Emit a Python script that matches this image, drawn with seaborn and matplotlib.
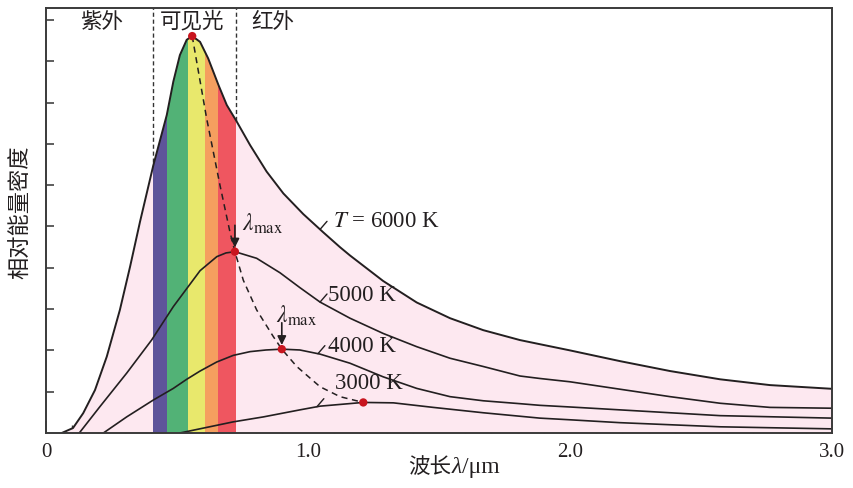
import numpy as np
import seaborn as sns
import matplotlib.pyplot as plt
from matplotlib.ticker import FixedLocator, NullFormatter
from matplotlib.offsetbox import TextArea, HPacker, AnnotationBbox

# values (x in um, y in relative units, one y-tick = 1)
x_6000 = [0.060, 0.103, 0.142, 0.187, 0.232, 0.282, 0.321, 0.359, 0.410, 0.461,
          0.486, 0.511, 0.537, 0.558, 0.588, 0.619, 0.658, 0.690, 0.728, 0.779,
          0.842, 0.906, 0.982, 1.058, 1.122, 1.160, 1.287, 1.415, 1.542, 1.669,
          1.809, 1.885, 2.000, 2.191, 2.382, 2.573, 2.763, 3.000]
y_6000 = [0.00, 0.12, 0.48, 1.04, 1.85, 2.98, 4.03, 5.12, 6.49, 7.70,
          8.51, 9.15, 9.52, 9.61, 9.47, 9.07, 8.43, 7.94, 7.54, 6.97,
          6.33, 5.80, 5.30, 4.86, 4.50, 4.30, 3.68, 3.16, 2.78, 2.49,
          2.25, 2.15, 2.00, 1.74, 1.50, 1.30, 1.16, 1.07]

x_5000 = [0.127, 0.206, 0.308, 0.403, 0.486, 0.588, 0.652, 0.687, 0.721, 0.804,
          0.893, 0.969, 1.046, 1.160, 1.287, 1.415, 1.542, 1.669, 1.809, 1.885,
          2.000, 2.191, 2.382, 2.573, 2.763, 3.000]
y_5000 = [0.00, 0.64, 1.45, 2.25, 3.06, 3.93, 4.27, 4.36, 4.39, 4.23,
          3.88, 3.52, 3.17, 2.78, 2.41, 2.09, 1.81, 1.61, 1.38, 1.32,
          1.24, 1.06, 0.88, 0.72, 0.62, 0.60]

x_4000 = [0.219, 0.308, 0.410, 0.486, 0.537, 0.588, 0.652, 0.715, 0.779, 0.840,
          0.900, 0.969, 1.046, 1.160, 1.287, 1.415, 1.542, 1.669, 1.809, 1.885,
          2.000, 2.191, 2.382, 2.573, 3.000]
y_4000 = [0.00, 0.39, 0.80, 1.08, 1.30, 1.50, 1.72, 1.88, 1.97, 2.01,
          2.03, 2.01, 1.91, 1.69, 1.36, 1.08, 0.88, 0.78, 0.71, 0.67,
          0.63, 0.56, 0.49, 0.42, 0.36]

x_3000 = [0.511, 0.715, 0.830, 0.969, 1.046, 1.211, 1.326, 1.478, 1.669, 1.885,
          2.000, 2.191, 2.382, 2.573, 3.000]
y_3000 = [0.00, 0.27, 0.39, 0.56, 0.65, 0.74, 0.73, 0.62, 0.49, 0.36,
          0.32, 0.25, 0.20, 0.15, 0.10]

peak_x = [0.558, 0.721, 0.900, 1.211]
peak_y = [9.61, 4.39, 2.03, 0.74]

# path of lambda_max (dashed)
locus_x = [0.558, 0.613, 0.664, 0.702, 0.721, 0.753, 0.804, 0.868, 0.900, 0.957,
           1.046, 1.122, 1.211]
locus_y = [9.61, 7.62, 6.00, 4.87, 4.39, 3.70, 2.98, 2.33, 2.03, 1.61,
           1.12, 0.88, 0.74]

curve_labels = [r"$T$ = 6000 K", "5000 K", "4000 K", "3000 K"]
label_x = [1.046, 1.046, 1.038, 1.034]

band_edges = [0.410, 0.460, 0.543, 0.607, 0.655, 0.725]
band_colors = ["#5e549a", "#52b276", "#e8e86c", "#f59f5f", "#ef5660"]

region_names = ["紫外", "可见光", "红外"]
region_x = [0.214, 0.557, 0.866]

xtick_pos = [0, 0.5, 1.0, 1.5, 2.0, 2.5, 3.0]
xtick_labels = ["0", "", "1.0", "", "2.0", "", "3.0"]
xminor_pos = [i / 10 for i in range(31)]
ytick_pos = list(range(1, 11))

sns.set_theme(style="white")
plt.rcParams["font.family"] = ["Liberation Serif", "Noto Sans CJK SC", "DejaVu Sans"]
plt.rcParams["mathtext.fontset"] = "stix"

ink = "#231f20"
pink = "#fde8f0"

fig = plt.figure(figsize=(8.54, 4.88), dpi=100)
ax = fig.add_axes([46 / 854, 55 / 488, 786 / 854, 425 / 488])
ax.set_xlim(0, 3.0)
ax.set_ylim(0, 10.29)

# region separators (hidden under the fill)
for xe in (band_edges[0], band_edges[-1]):
    ax.axvline(xe, color="#333333", lw=1.0, ls=(0, (3, 2)), zorder=1)

fill = ax.fill_between(x_6000, y_6000, 0, color=pink, lw=0, zorder=2)
clip = fill.get_paths()[0]
for a, b, c in zip(band_edges[:-1], band_edges[1:], band_colors):
    span = ax.axvspan(a, b, color=c, lw=0, zorder=3)
    span.set_clip_path(clip, ax.transData)

for xs, ys, lw in [(x_6000, y_6000, 1.4), (x_5000, y_5000, 1.2),
                   (x_4000, y_4000, 1.2), (x_3000, y_3000, 1.2)]:
    sns.lineplot(x=xs, y=ys, sort=False, estimator=None, color=ink, lw=lw,
                 ax=ax, zorder=4)

sns.lineplot(x=locus_x, y=locus_y, sort=False, estimator=None, color=ink,
             lw=1.1, linestyle=(0, (4, 3)), ax=ax, zorder=5)

sns.scatterplot(x=peak_x, y=peak_y, color="#c8151f", s=36, edgecolor="none",
                ax=ax, zorder=7)

# lambda_max arrows on the 5000 K and 4000 K peaks
lam_offsets = [(5, 11.5), (-4, 15)]
for i, off in zip([1, 2], lam_offsets):
    ax.annotate("", xy=(peak_x[i], peak_y[i]), xytext=(0, 19),
                textcoords="offset points",
                arrowprops=dict(arrowstyle="-|>", color=ink, lw=1.2,
                                mutation_scale=13, shrinkA=0, shrinkB=3),
                zorder=6)
    ax.annotate(r"$\lambda_{\rm max}$", xy=(peak_x[i], peak_y[i]), xytext=off,
                textcoords="offset points", ha="left", va="bottom",
                fontsize=17, color=ink, zorder=6)

# curve labels with short leaders
text_offsets = [(9.4, 5.8), (5.8, 5.0), (7.2, 5.0), (13, 16.6)]
curves = [(x_6000, y_6000), (x_5000, y_5000), (x_4000, y_4000), (x_3000, y_3000)]
for (xs, ys), lx, lab, off in zip(curves, label_x, curve_labels, text_offsets):
    ly = np.interp(lx, xs, ys)
    ax.annotate("", xy=(lx, ly), xytext=(5, 5.8), textcoords="offset points",
                arrowprops=dict(arrowstyle="-", color=ink, lw=1.0,
                                shrinkA=0, shrinkB=0), zorder=6)
    ax.annotate(lab, xy=(lx, ly), xytext=off, textcoords="offset points",
                ha="left", va="center", fontsize=16.5, color=ink, zorder=6)

for name, rx in zip(region_names, region_x):
    ax.text(rx, 9.96, name, ha="center", va="center", fontsize=15.5,
            family=["Noto Sans CJK SC"], color=ink)

# axes, ticks
ax.xaxis.set_major_locator(FixedLocator(xtick_pos))
ax.set_xticklabels(xtick_labels)
ax.xaxis.set_minor_locator(FixedLocator(xminor_pos))
ax.yaxis.set_major_locator(FixedLocator(ytick_pos))
ax.yaxis.set_major_formatter(NullFormatter())
ax.tick_params(axis="x", which="major", direction="in", length=9, width=1.1,
               color="#333333", labelsize=15, pad=7, labelcolor=ink,
               bottom=True, top=False)
ax.tick_params(axis="x", which="minor", direction="in", length=5.5, width=1.0,
               color="#333333", bottom=True, top=False)
ax.tick_params(axis="y", which="major", direction="in", length=6, width=1.1,
               color="#333333", left=True, right=False)
for sp in ax.spines.values():
    sp.set_color("#3a3a3a")
    sp.set_linewidth(1.4)
    sp.set_zorder(8)

ax.set_ylabel("相对能量密度", family=["Noto Sans CJK SC"], fontsize=16,
              color=ink, va="center")
ax.yaxis.set_label_coords(-0.032, 0.52)

xlab = HPacker(children=[
    TextArea("波长", textprops=dict(family=["Noto Sans CJK SC"], fontsize=15.5, color=ink)),
    TextArea("λ", textprops=dict(family=["Liberation Serif"], style="italic", fontsize=17, color=ink)),
    TextArea("/μm", textprops=dict(family=["Liberation Serif"], fontsize=17, color=ink)),
], align="baseline", pad=0, sep=0)
ab = AnnotationBbox(xlab, (0.519, -0.08), xycoords="axes fraction",
                    box_alignment=(0.5, 0.5), frameon=False, pad=0)
ax.add_artist(ab)

fig.savefig("out.png", dpi=100)
